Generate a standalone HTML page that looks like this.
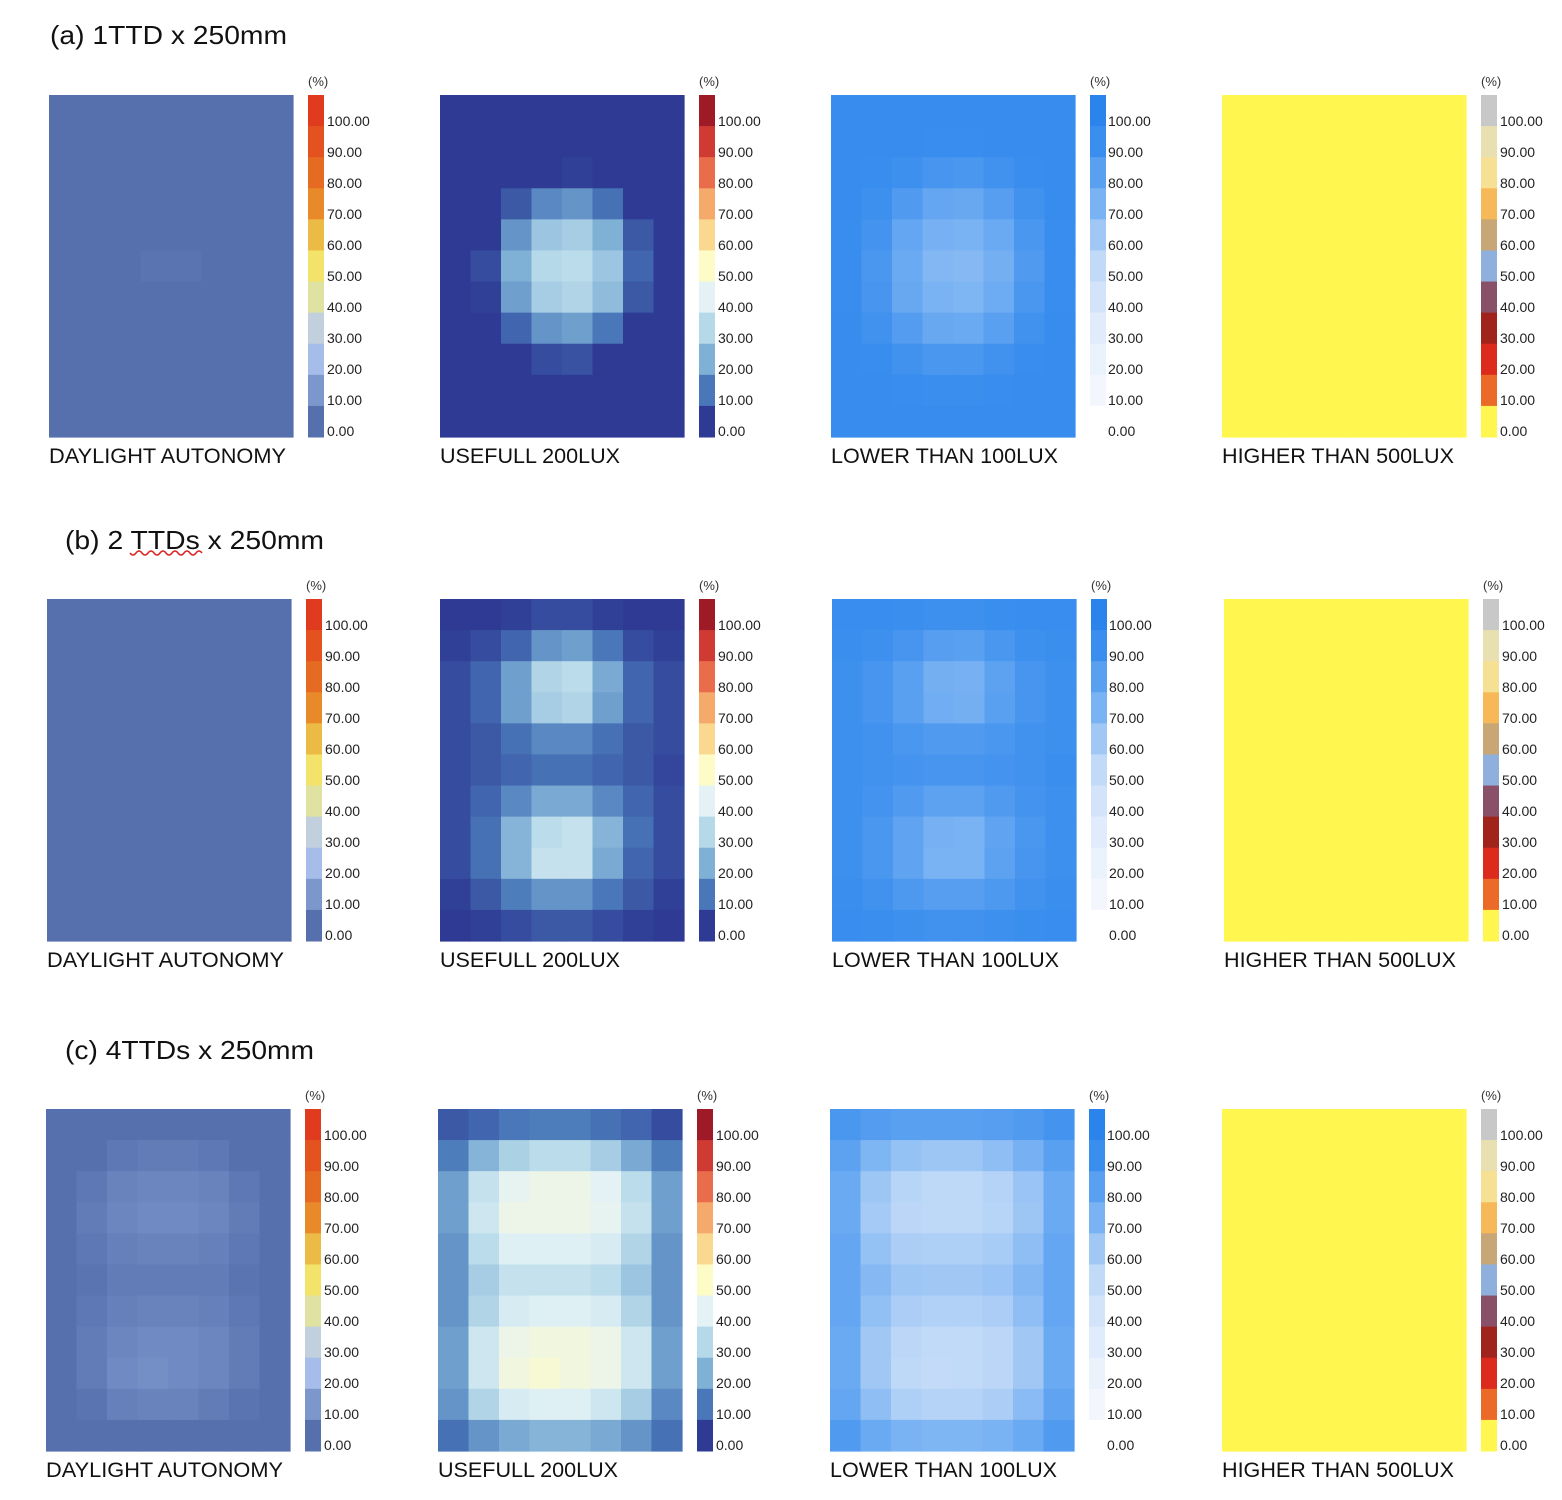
<!DOCTYPE html>
<html><head><meta charset="utf-8"><style>
body{margin:0;background:#fff;}
svg{display:block;font-family:"Liberation Sans",sans-serif;}
</style></head><body>
<svg id="fig" width="1562" height="1500" viewBox="0 0 1562 1500" xmlns="http://www.w3.org/2000/svg">
<rect width="1562" height="1500" fill="#fff"/>
<text x="50" y="44" font-size="26" fill="#111" textLength="237" lengthAdjust="spacingAndGlyphs">(a) 1TTD x 250mm</text>
<text x="65" y="549" font-size="26" fill="#111" textLength="259" lengthAdjust="spacingAndGlyphs">(b) 2 TTDs x 250mm</text>
<path d="M130 553 q3 4 6 0 t6 0 t6 0 t6 0 t6 0 t6 0 t6 0 t6 0 t6 0 t6 0 t6 0 t6 0" fill="none" stroke="#d22" stroke-width="1.5"/>
<text x="65" y="1059" font-size="26" fill="#111" textLength="249" lengthAdjust="spacingAndGlyphs">(c) 4TTDs x 250mm</text>
<g id="plots"></g>
</svg>
<script>
const tickLabels = ["100.00","90.00","80.00","70.00","60.00","50.00","40.00","30.00","20.00","10.00","0.00"];
const panelTitles = ["DAYLIGHT AUTONOMY","USEFULL 200LUX","LOWER THAN 100LUX","HIGHER THAN 500LUX"];
const paletteDA = ["#5670ae","#7b97cc","#a5bde8","#c2cfdc","#dfe2a0","#f3e36a","#ecbb45","#e88a2a","#e56a22","#e4531f","#e03a1f"];
const paletteUseful = ["#2e3a93","#4977b9","#7fb0d6","#b6d9e9","#e4f2f6","#fdfcc6","#fbd88f","#f5a96b","#ea6d4b","#cf3a33","#9e1a27"];
const paletteLower = ["#ffffff","#f3f7fd","#eaf2fc","#e0ecfb","#d3e4fa","#c1daf8","#a1c8f5","#7ab3f3","#5aa0f0","#3a8eee","#2b84ec"];
const paletteHigher = ["#fff64f","#ec6a28","#dc2a1c","#a0241c","#8a5068","#8fb0dc","#c8a676","#f6b858","#f6e094","#e8e0b0","#c8c8c8"];

const daA = [
[0,0,0,0,0,0,0,0],[0,0,0,0,0,0,0,0],[0,0,0,1,1,0,0,0],[0,0,2,3,3,2,0,0],[0,1,3,5,5,4,1,0],[0,1,4,6,6,4,1,0],
[0,1,3,5,5,4,1,0],[0,0,2,3,3,2,0,0],[0,0,0,1,1,0,0,0],[0,0,0,0,0,0,0,0],[0,0,0,0,0,0,0,0]];
const usefulA = [
[0,0,0,0,0,0,0,0],[0,0,0,0,0,0,0,0],[0,0,2,5,6,4,1,0],[0,2,10,18,20,14,5,0],[0,5,20,30,32,25,10,2],[1,8,25,35,36,30,12,2],
[1,6,22,32,34,28,10,1],[0,3,12,20,22,15,5,0],[0,1,4,8,9,5,1,0],[0,0,1,2,2,1,0,0],[0,0,0,0,0,0,0,0]];
const lowerA = [
[97,97,97,97,97,97,97,97],[97,97,97,96,96,97,97,97],[97,96,94,91,90,93,96,97],[97,94,88,82,81,86,93,97],[96,92,82,76,75,80,90,96],[96,90,80,73,72,77,88,96],
[96,91,81,75,74,79,90,96],[97,93,87,81,80,85,93,97],[97,96,93,90,90,93,96,97],[97,97,96,95,95,96,97,97],[97,97,97,97,97,97,97,97]];
const daB = [
[0,0,0,0,0,0,0,0],[0,0,0,1,1,0,0,0],[0,0,1,4,4,1,0,0],[0,0,1,4,4,1,0,0],[0,0,0,1,1,0,0,0],[0,0,0,0,0,0,0,0],
[0,0,0,1,1,0,0,0],[0,0,2,5,5,1,0,0],[0,0,2,5,5,1,0,0],[0,0,0,1,1,0,0,0],[0,0,0,0,0,0,0,0]];
const usefulB = [
[5,5,6,8,8,6,5,4],[6,8,12,20,22,15,8,6],[8,12,22,34,36,24,12,8],[8,12,22,32,34,22,12,8],[8,10,14,18,18,14,10,8],[8,10,12,14,14,12,10,7],
[8,12,18,24,24,18,12,8],[8,14,26,36,38,26,14,8],[8,14,26,38,38,24,12,8],[6,10,16,20,20,15,10,6],[5,6,8,10,10,8,6,5]];
const lowerB = [
[96,96,95,94,94,95,96,96],[95,94,91,86,85,90,94,95],[94,91,85,77,76,84,91,94],[94,91,85,78,77,85,91,94],[94,93,90,88,88,90,93,94],[94,93,92,91,91,92,93,95],
[94,92,88,84,84,88,92,94],[94,90,83,76,75,83,90,94],[94,90,83,75,75,84,91,94],[95,93,89,86,86,89,93,95],[96,95,94,93,93,94,95,96]];
const daC = [
[2,3,3,3,3,3,3,2],[3,5,7,8,8,7,5,3],[4,7,10,11,11,10,7,4],[4,8,11,12,12,11,8,4],[4,7,9,10,10,9,7,4],[4,6,8,8,8,8,6,4],
[4,7,9,10,10,9,7,4],[4,8,11,12,12,11,8,4],[4,8,12,13,12,11,8,4],[3,6,9,10,10,8,6,3],[2,4,5,5,5,5,4,2]];
const usefulC = [
[10,12,15,16,16,14,12,8],[16,26,33,36,36,32,24,16],[22,38,46,48,48,45,36,22],[22,40,48,48,48,46,38,22],[20,36,44,44,44,42,34,20],[20,32,38,38,38,36,30,20],
[20,34,42,44,44,42,34,20],[22,40,48,50,50,48,40,22],[22,40,50,52,50,48,40,22],[20,34,42,44,44,40,32,18],[14,20,24,26,26,24,20,14]];
const lowerC = [
[90,87,85,85,85,86,88,92],[84,74,68,66,66,70,76,85],[80,66,58,56,56,59,67,80],[80,64,57,56,56,58,66,80],[82,68,62,61,61,63,70,82],[82,72,66,65,65,67,73,82],
[82,69,62,60,60,62,70,82],[80,65,57,55,55,57,65,80],[80,65,56,54,55,57,65,80],[82,70,61,59,59,62,71,83],[88,80,75,74,74,75,80,88]];
const higherAll = [
[0,0,0,0,0,0,0,0],[0,0,0,0,0,0,0,0],[0,0,0,0,0,0,0,0],[0,0,0,0,0,0,0,0],[0,0,0,0,0,0,0,0],[0,0,0,0,0,0,0,0],
[0,0,0,0,0,0,0,0],[0,0,0,0,0,0,0,0],[0,0,0,0,0,0,0,0],[0,0,0,0,0,0,0,0],[0,0,0,0,0,0,0,0]];

const NS="http://www.w3.org/2000/svg";
const root=document.getElementById('plots');
function mk(tag,attrs,parent){const e=document.createElementNS(NS,tag);for(const k in attrs)e.setAttribute(k,attrs[k]);parent.appendChild(e);return e;}
function hex(c){return [parseInt(c.slice(1,3),16),parseInt(c.slice(3,5),16),parseInt(c.slice(5,7),16)];}
function colorScale(pal,v){
  const t=Math.max(0,Math.min(10,(v-5)/10));
  const i=Math.floor(t),f=t-i;const a=hex(pal[i]),b=hex(pal[Math.min(10,i+1)]);
  return 'rgb('+a.map((x,j)=>Math.round(x+(b[j]-x)*f)).join(',')+')';
}
const rows=[
 {y:95,xs:[49,440,831,1222],data:[daA,usefulA,lowerA,higherAll]},
 {y:599,xs:[47,440,832,1224],data:[daB,usefulB,lowerB,higherAll]},
 {y:1109,xs:[46,438,830,1222],data:[daC,usefulC,lowerC,higherAll]}
];
const labelWidths=[237,180,227,232];
const palettes=[paletteDA,paletteUseful,paletteLower,paletteHigher];
const W=244,H=342;
rows.forEach((r,ri)=>{
  r.xs.forEach((x0,ci)=>{
    const g=mk('g',{},root);
    
    
    const grid=r.data[ci],nr=grid.length,nc=grid[0].length;
    const xS=c=>x0+c*W/nc, yS=rr=>r.y+rr*H/nr;
    grid.forEach((row,rr)=>row.forEach((v,c)=>{
      const cell=mk('rect',{x:xS(c),y:yS(rr),width:W/nc+0.6,height:H/nr+0.6,fill:colorScale(palettes[ci],v)},g);
      
      
    }));
    const lab=mk('text',{x:x0,y:r.y+H+26,'font-size':21,fill:'#111',textLength:labelWidths[ci],lengthAdjust:'spacingAndGlyphs'},root);
    lab.textContent=panelTitles[ci];
    
    
    const bx=x0+W+15;
    const cb=mk('g',{},root);
    
    
    const sh=H/11;
    for(let k=0;k<11;k++){
      const s=mk('rect',{x:bx,y:r.y+k*sh,width:16,height:sh+0.5,fill:palettes[ci][10-k]},cb);
      
      
    }
    const u=mk('text',{x:bx,y:r.y-9,'font-size':13,fill:'#333'},cb);
    u.textContent='(%)';
    
    
    tickLabels.forEach((t,k)=>{
      const tx=mk('text',{x:bx+(ci==2?18:19),y:r.y+31+k*31,'font-size':14,fill:'#222'},cb);
      tx.textContent=t;
      
      
    });
  });
});
</script>
</body></html>
